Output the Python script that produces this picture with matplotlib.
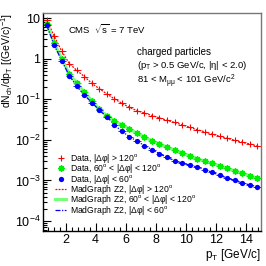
import matplotlib
matplotlib.use("Agg")
import matplotlib.pyplot as plt
import numpy as np
from matplotlib.ticker import MultipleLocator, LogLocator, FixedLocator, NullFormatter
from matplotlib.lines import Line2D

plt.rcParams['font.family'] = ['Liberation Sans', 'DejaVu Sans']
plt.rcParams['mathtext.fontset'] = 'custom'
plt.rcParams['mathtext.rm'] = 'Liberation Sans'
plt.rcParams['mathtext.it'] = 'Liberation Sans'
plt.rcParams['mathtext.default'] = 'regular'

# --- data (log10 of dN/dpT) ---
pt = [0.75, 1.25, 1.75, 2.25, 2.75, 3.25, 3.75, 4.25, 4.75, 5.25, 5.75, 6.25, 6.75,
      7.25, 7.75, 8.25, 8.75, 9.25, 9.75, 10.25, 10.75, 11.25, 11.75, 12.25, 12.75,
      13.25, 13.75, 14.25, 14.75]
log_away = [0.95, 0.55, 0.18, -0.12, -0.29, -0.44, -0.61, -0.74, -0.87, -0.99, -1.10,
            -1.20, -1.28, -1.34, -1.40, -1.46, -1.52, -1.57, -1.63, -1.69, -1.75, -1.80,
            -1.86, -1.91, -1.96, -2.01, -2.06, -2.10, -2.15]
log_trans = [0.85, 0.38, 0.0, -0.38, -0.60, -0.82, -1.04, -1.25, -1.41, -1.53, -1.63,
             -1.73, -1.84, -1.93, -2.02, -2.10, -2.18, -2.25, -2.32, -2.39, -2.46, -2.52,
             -2.58, -2.64, -2.70, -2.76, -2.82, -2.88, -2.94]
log_toward = [0.82, 0.33, -0.05, -0.42, -0.68, -0.90, -1.08, -1.27, -1.43, -1.63, -1.79,
              -1.92, -2.03, -2.14, -2.24, -2.34, -2.43, -2.51, -2.57, -2.62, -2.67, -2.73,
              -2.80, -2.87, -2.94, -3.00, -3.06, -3.11, -3.15]
bin_half = 0.25

labels_data = ["Data, |Δφ| > 120$^{o}$",
               "Data, 60$^{o}$ < |Δφ| < 120$^{o}$",
               "Data, |Δφ| < 60$^{o}$"]
labels_mc = ["MadGraph Z2, |Δφ| > 120$^{o}$",
             "MadGraph Z2, 60$^{o}$ < |Δφ| < 120$^{o}$",
             "MadGraph Z2, |Δφ| < 60$^{o}$"]

x = np.array(pt)
ya = 10 ** np.array(log_away)
yt = 10 ** np.array(log_trans)
yw = 10 ** np.array(log_toward)

fig = plt.figure(figsize=(2.66, 2.66), dpi=100)
ax = fig.add_axes([0.1617, 0.1316, 0.8193, 0.8194])

# MC lines
l4, = ax.plot(x, ya, color='red', ls=(0, (1.5, 1)), lw=0.9)
l5, = ax.plot(x, yt, color='#77ff77', ls='-', lw=2.2)
l6, = ax.plot(x, yw, color='blue', ls=(0, (4, 1.2, 1, 1.2)), lw=0.9)

# data
ax.errorbar(x, ya, xerr=bin_half, yerr=ya * 0.05, fmt='+', color='red', ms=4.5,
            mew=0.8, elinewidth=0.6, capsize=0)
ax.errorbar(x, yt, xerr=bin_half, yerr=yt * 0.06, fmt='none', ecolor='#00ee00',
            elinewidth=0.6, capsize=0)
ax.plot(x, yt, ls='none', marker=(8, 2, 0), color='#00ee00', ms=4.5, mew=1.0)
ax.errorbar(x, yw, xerr=bin_half, yerr=yw * 0.06, fmt='o', color='blue', ms=3.8,
            mew=0, elinewidth=0.6, capsize=0)

ax.set_yscale('log')
ax.set_xlim(0.5, 15)
ax.set_ylim(5.7e-5, 13.3)

ax.xaxis.set_major_locator(FixedLocator([2, 4, 6, 8, 10, 12, 14]))
ax.xaxis.set_minor_locator(MultipleLocator(0.4))
ax.yaxis.set_major_locator(FixedLocator([1e-4, 1e-3, 1e-2, 1e-1, 1, 10]))
ax.set_yticklabels(['$10^{-4}$', '$10^{-3}$', '$10^{-2}$', '$10^{-1}$', '1', '10'])
ax.yaxis.set_minor_locator(LogLocator(base=10, subs=np.arange(2, 10)))
ax.yaxis.set_minor_formatter(NullFormatter())
ax.tick_params(which='both', direction='in', top=False, right=False, labelsize=9,
               width=0.8, pad=2)
ax.tick_params(which='major', length=6)
ax.tick_params(which='minor', length=3)
for s in ['left', 'bottom']:
    ax.spines[s].set_linewidth(1.0)
for s in ['top', 'right']:
    ax.spines[s].set_color('#777777')
    ax.spines[s].set_linewidth(1.0)

ax.set_xlabel('p$_T$ [GeV/c]', fontsize=8.5)
ax.xaxis.set_label_coords(1.0, -0.075)
ax.xaxis.label.set_ha('right')
ax.xaxis.label.set_va('top')
ax.set_ylabel('dN$_{ch}$/dp$_T$ [(GeV/c)$^{-1}$]', fontsize=7.5)
ax.yaxis.set_label_coords(-0.165, 1.0)
ax.yaxis.label.set_ha('right')
ax.yaxis.label.set_va('center')

ax.text(0.115, 0.957, 'CMS  $\\sqrt{s}$ = 7 TeV', transform=ax.transAxes, fontsize=6.8,
        va='top')
ax.text(0.43, 0.845, 'charged particles', transform=ax.transAxes, fontsize=7, va='top')
ax.text(0.43, 0.79, '(p$_T$ > 0.5 GeV/c, |η| < 2.0)', transform=ax.transAxes,
        fontsize=6.8, va='top')
ax.text(0.43, 0.728, '81 < M$_{μμ}$ < 101 GeV/c$^{2}$', transform=ax.transAxes,
        fontsize=6.8, va='top')

h1 = Line2D([], [], ls='none', marker='+', color='red', ms=4.5, mew=0.8)
h2 = Line2D([], [], ls='none', marker=(8, 2, 0), color='#00ee00', ms=4.5, mew=1.0)
h3 = Line2D([], [], ls='none', marker='o', color='blue', ms=3.8, mew=0)
ax.legend([h1, h2, h3, l4, l5, l6], labels_data + labels_mc, loc='lower left',
          bbox_to_anchor=(0.055, 0.065), fontsize=6.2, frameon=False,
          handlelength=1.3, handletextpad=0.4, labelspacing=-0.3,
          borderaxespad=0, borderpad=0)

fig.savefig('out.png', dpi=100)
